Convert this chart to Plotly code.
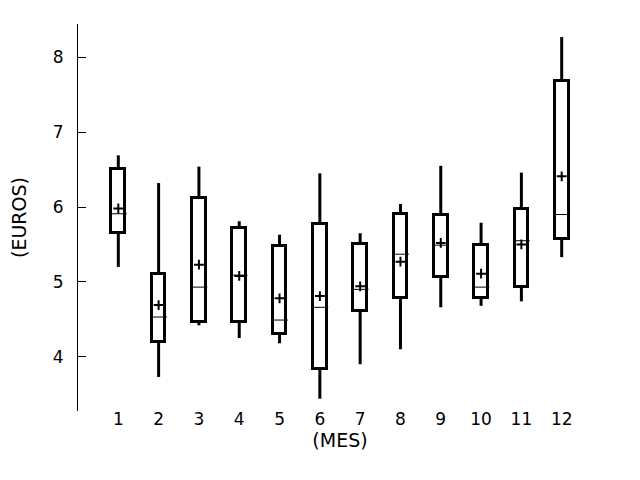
import plotly.graph_objects as go

months = [1, 2, 3, 4, 5, 6, 7, 8, 9, 10, 11, 12]
tick_labels = ["1", "2", "3", "4", "5", "6", "7", "8", "9", "10", "11", "12"]
lower_whisker = [5.20, 3.73, 4.42, 4.25, 4.18, 3.44, 3.90, 4.10, 4.66, 4.68, 4.74, 5.33]
q1 = [5.65, 4.20, 4.47, 4.46, 4.31, 3.84, 4.61, 4.78, 5.06, 4.79, 4.93, 5.57]
median = [5.91, 4.53, 4.93, 5.09, 4.49, 4.66, 4.90, 5.37, 5.49, 4.93, 5.55, 5.90]
mean = [5.98, 4.69, 5.23, 5.08, 4.78, 4.81, 4.94, 5.27, 5.52, 5.11, 5.50, 6.41]
q3 = [6.51, 5.11, 6.12, 5.72, 5.48, 5.77, 5.50, 5.91, 5.89, 5.49, 5.98, 7.69]
upper_whisker = [6.69, 6.32, 6.54, 5.81, 5.63, 6.45, 5.65, 6.04, 6.55, 5.79, 6.46, 8.27]

BOX_W = 0.34

# whisker segments (q3 -> upper, lower -> q1)
wx, wy = [], []
for m, lo, a, b, hi in zip(months, lower_whisker, q1, q3, upper_whisker):
    wx += [m, m, None, m, m, None]
    wy += [b, hi, None, lo, a, None]

fig = go.Figure()
fig.add_trace(go.Bar(
    x=months, base=q1, y=[b - a for a, b in zip(q1, q3)],
    width=BOX_W,
    marker=dict(color="white", line=dict(color="black", width=3)),
    hoverinfo="skip", showlegend=False,
))
fig.add_trace(go.Scatter(
    x=wx, y=wy, mode="lines",
    line=dict(color="black", width=3),
    hoverinfo="skip", showlegend=False,
))
fig.add_trace(go.Scatter(
    x=months, y=median, mode="markers",
    marker=dict(symbol="line-ew", size=12, line=dict(color="black", width=1)),
    hoverinfo="skip", showlegend=False,
))
fig.add_trace(go.Scatter(
    x=months, y=mean, mode="markers",
    marker=dict(symbol="cross-thin", size=7, line=dict(color="black", width=2)),
    hoverinfo="skip", showlegend=False,
))

# the page body adds an 8px offset, so margins compensate for it
fig.update_layout(
    width=640, height=480,
    margin=dict(l=70, r=46, t=16, b=77),
    paper_bgcolor="white", plot_bgcolor="white",
    font=dict(family="DejaVu Sans", size=17, color="black"),
    bargap=0,
)
fig.update_xaxes(
    range=[0, 13], tickvals=months, ticktext=tick_labels,
    showline=False, showgrid=False, zeroline=False, ticks="",
    automargin=False, ticklabelstandoff=-4,
    title=dict(text="(MES)", standoff=0, font=dict(size=19)),
    tickfont=dict(size=17),
)
fig.update_yaxes(
    range=[3.275, 8.445], tickvals=[4, 5, 6, 7, 8],
    showline=True, linecolor="black", linewidth=1,
    showgrid=False, zeroline=False, automargin=False,
    ticks="inside", ticklen=8, tickcolor="black", tickwidth=1,
    ticklabelstandoff=10,
    tickfont=dict(size=17),
    title=dict(text="(EUROS)", standoff=30, font=dict(size=19)),
)

fig.write_html("out.html")
